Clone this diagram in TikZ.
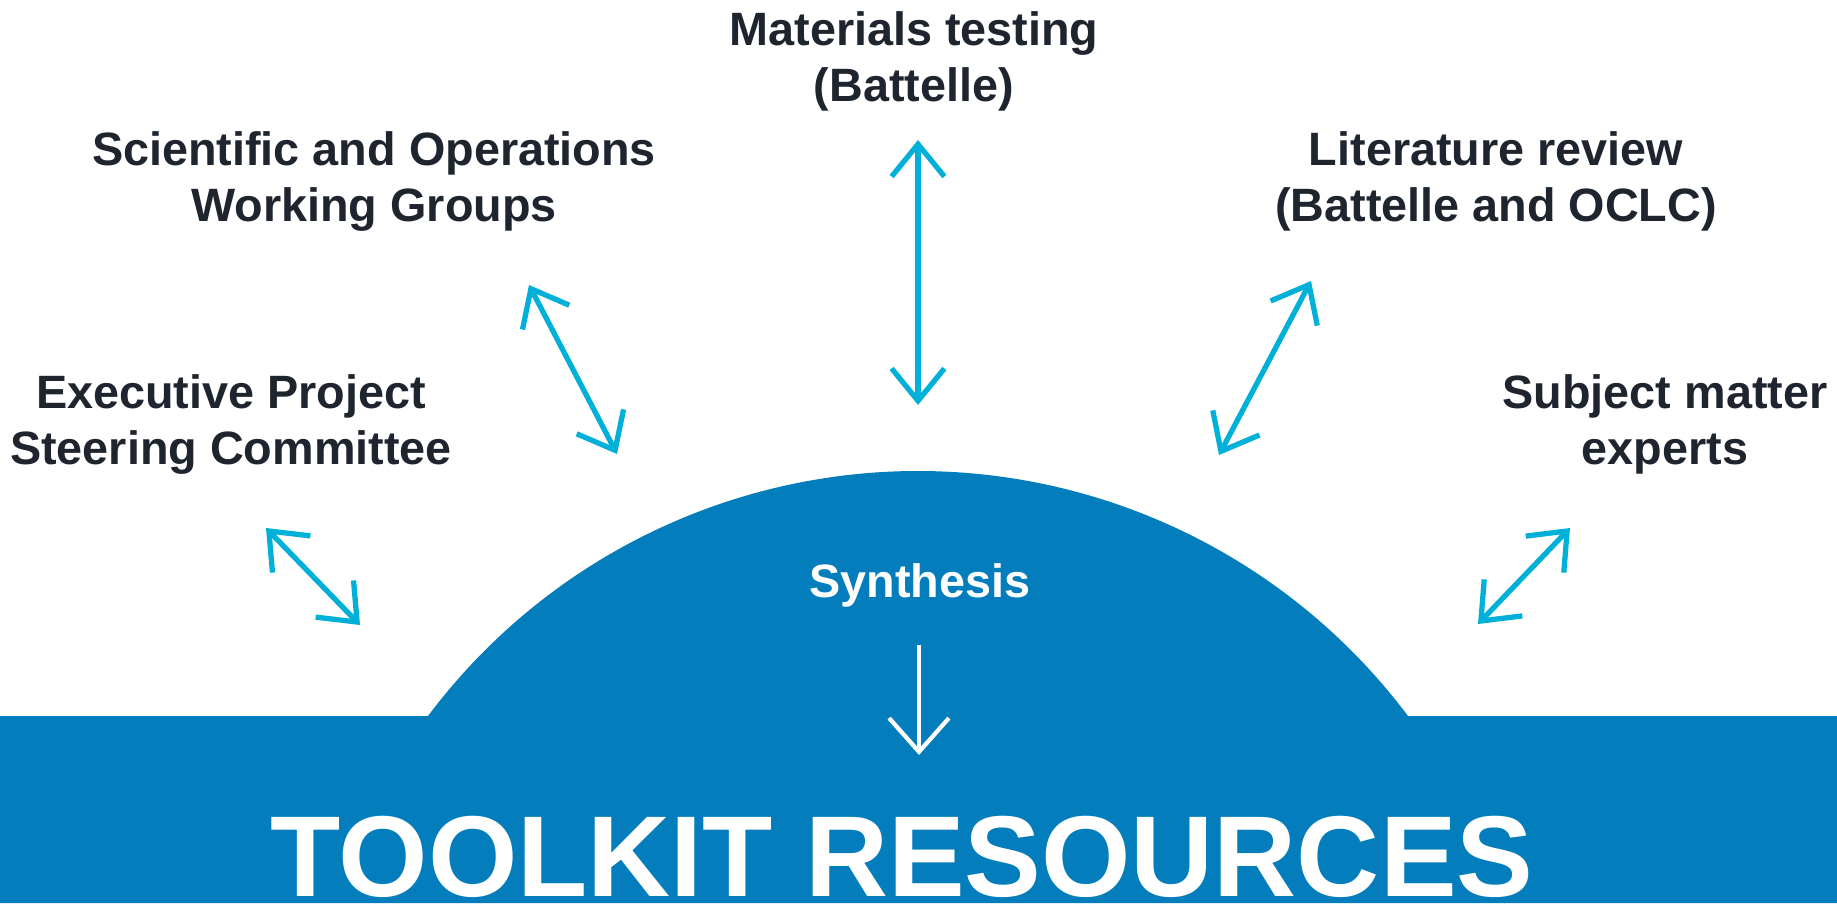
\documentclass[tikz,border=0pt]{standalone}
\usepackage{fontspec}
\setmainfont{Liberation Sans}
\usetikzlibrary{arrows.meta,positioning}

\definecolor{toolblue}{HTML}{037DBB}
\definecolor{linkcyan}{HTML}{00B0D8}
\definecolor{labelink}{HTML}{1E252F}

\tikzset{
  lbl/.style={align=center, anchor=base, inner sep=0pt, text=labelink,
    font=\fontsize{13.3}{15.9}\selectfont\bfseries},
  link/.style={<->, draw=linkcyan, line width=1.5pt, line join=miter},
}

\begin{document}
\begin{tikzpicture}[x=0.01cm, y=-0.01cm,
  >={Straight Barb[length=9.2pt,width=15pt]}]
\useasboundingbox (0,0) rectangle (1837,903);

% band and dome
\fill[toolblue] (0,903) -- (0,716) -- (428,716)
  arc[start angle=216.87, end angle=323.13, radius=612.5]
  -- (1837,716) -- (1837,903) -- cycle;

% labels (base = last line)
\node[lbl] (mat) at (914,101) {Materials testing\\(Battelle)};
\node[lbl] (sci) at (374,221) {Scientific and Operations\\Working Groups};
\node[lbl] (lit) at (1496,221) {Literature review\\(Battelle and OCLC)};
\node[lbl] (exec) at (231,464) {Executive Project\\Steering Committee};
\node[lbl] (subj) at (1665,464) {Subject matter\\experts};
\node[lbl, text=white] (syn) at (920,597) {Synthesis};
\node[lbl, text=white, font=\fontsize{32.7}{39}\selectfont\bfseries]
  (kit) at (902,896) {TOOLKIT RESOURCES};

% arrow ends
\coordinate (execA) at (266,528);
\coordinate (execB) at (360,625);
\coordinate (sciA) at (529,285);
\coordinate (sciB) at (617,454);
\coordinate (matA) at (918,140);
\coordinate (matB) at (918,405);
\coordinate (litA) at (1311,281);
\coordinate (litB) at (1219,455);
\coordinate (subjA) at (1570,528);
\coordinate (subjB) at (1478,624);
\coordinate (synA) at (919,645);
\coordinate (synB) at (919,755);

\foreach \a/\b in {execA/execB, sciA/sciB, matA/matB, litA/litB, subjA/subjB}
  \draw[link] (\a) -- (\b);

\draw[->, white, line width=1.2pt,
  >={Straight Barb[length=9.6pt,width=17pt]}] (synA) -- (synB);
\end{tikzpicture}
\end{document}
